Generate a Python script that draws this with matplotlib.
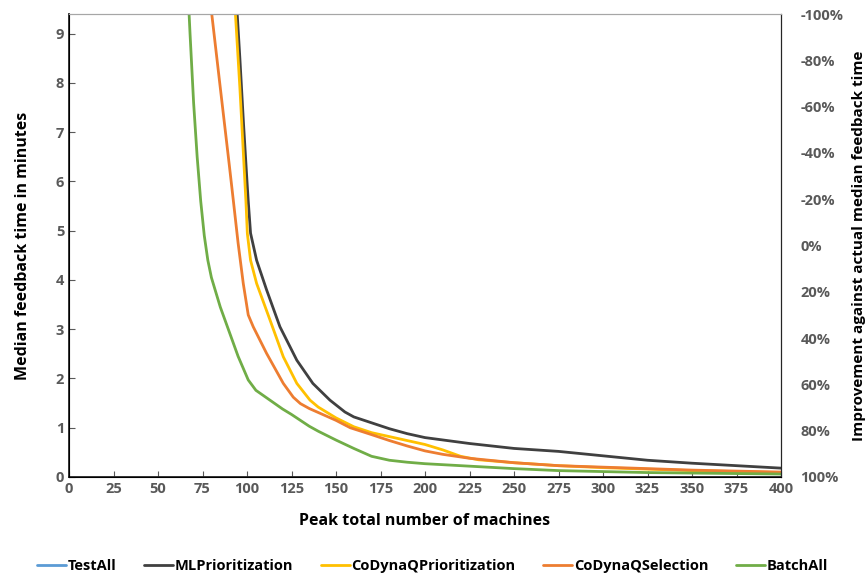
import numpy as np
import matplotlib.pyplot as plt
from matplotlib.ticker import FuncFormatter

# ===== data =====
# TestAll stays above the visible range of the chart
x_testall = [0, 100, 200, 300, 400]
y_testall = [60.0, 40.0, 25.0, 18.0, 14.0]

x_ml = [93.5, 94.5, 96, 98, 100, 100.7, 102, 105.4, 111, 118.5, 128, 137, 146.6, 155, 160,
        170, 180, 190, 200, 225, 250, 275, 300, 325, 350, 375, 400]
y_ml = [10.2, 9.4, 8.5, 7.2, 6.0, 5.6, 4.95, 4.4, 3.8, 3.05, 2.37, 1.9, 1.56, 1.32, 1.22,
        1.1, 0.98, 0.88, 0.8, 0.68, 0.58, 0.52, 0.43, 0.34, 0.28, 0.23, 0.18]

x_cdqp = [93, 93.5, 96, 99.4, 100.2, 102, 105.4, 113, 120.4, 128, 135.4, 140, 150, 160,
          170, 180, 190, 200, 210, 220, 230, 250, 275, 300, 325, 350, 375, 400]
y_cdqp = [10.2, 9.4, 7.9, 5.6, 4.94, 4.4, 3.93, 3.18, 2.44, 1.9, 1.56, 1.42, 1.2, 1.02,
          0.9, 0.82, 0.74, 0.66, 0.55, 0.42, 0.35, 0.29, 0.23, 0.19, 0.16, 0.13, 0.11, 0.09]

x_cdqs = [79, 80.2, 85, 90, 92.3, 95, 97.9, 100.7, 103.5, 111, 120.4, 126, 130, 135, 140, 150,
          158, 170, 180, 190, 200, 210, 225, 250, 275, 300, 325, 350, 375, 400]
y_cdqs = [10.2, 9.4, 7.9, 6.35, 5.62, 4.75, 3.93, 3.29, 3.05, 2.51, 1.9, 1.62, 1.49, 1.39, 1.31, 1.15,
          1.0, 0.86, 0.74, 0.63, 0.53, 0.46, 0.38, 0.29, 0.23, 0.2, 0.17, 0.14, 0.12, 0.1]

x_batch = [66, 68, 70, 72, 74, 76, 78, 80, 85, 90, 95, 100.7, 105, 112.9, 120, 125, 130, 135,
           140, 150, 160, 170, 180, 190, 200, 225, 250, 275, 300, 325, 350, 375, 400]
y_batch = [10.5, 9.0, 7.6, 6.5, 5.6, 4.9, 4.4, 4.05, 3.45, 2.95, 2.45, 1.97, 1.76, 1.56, 1.38, 1.27, 1.15, 1.03,
           0.93, 0.75, 0.58, 0.42, 0.34, 0.3, 0.27, 0.22, 0.17, 0.13, 0.11, 0.09, 0.08, 0.07, 0.06]

series = [
    ("TestAll", x_testall, y_testall, "#5B9BD5"),
    ("MLPrioritization", x_ml, y_ml, "#404040"),
    ("CoDynaQPrioritization", x_cdqp, y_cdqp, "#FFC000"),
    ("CoDynaQSelection", x_cdqs, y_cdqs, "#ED7D31"),
    ("BatchAll", x_batch, y_batch, "#70AD47"),
]

actual_median = 4.7  # minutes, maps to 0% on the right axis

plt.rcParams["font.family"] = ["Open Sans", "DejaVu Sans"]
plt.rcParams["font.weight"] = "bold"

fig = plt.figure(figsize=(8.65, 5.79), dpi=100)
ax = fig.add_axes([69 / 865, 1 - 477 / 579, 712 / 865, 463 / 579])

for name, xs, ys, col in series:
    ax.plot(xs, ys, color=col, lw=2, label=name, solid_capstyle="round")

ax.set_xlim(0, 400)
ax.set_ylim(0, 2 * actual_median)
ax.set_xticks(np.arange(0, 401, 25))
ax.set_yticks(np.arange(0, 10, 1))
ax.tick_params(direction="in", length=4, colors="#595959", labelsize=10.5,
               labelcolor="#595959")
for lab in ax.get_xticklabels() + ax.get_yticklabels():
    lab.set_fontweight("bold")
ax.spines["top"].set_color("#A6A6A6")
ax.spines["left"].set_color("#262626")
ax.spines["bottom"].set_color("#262626")
ax.spines["left"].set_linewidth(1.3)
ax.spines["bottom"].set_linewidth(1.3)
ax.set_xlabel("Peak total number of machines", fontsize=11.5, fontweight="bold", labelpad=12)
ax.set_ylabel("Median feedback time in minutes", fontsize=11.5, fontweight="bold", labelpad=18)

ax2 = ax.twinx()
ax2.set_ylim(1, -1)
ax2.set_yticks(np.arange(-1, 1.01, 0.2))
ax2.yaxis.set_major_formatter(FuncFormatter(lambda v, p: f"{round(v * 100):d}%"))
ax2.tick_params(direction="in", length=0, colors="#595959", labelsize=10.5, pad=14)
for lab in ax2.get_yticklabels():
    lab.set_fontweight("bold")
ax2.spines["right"].set_color("#262626")
ax2.spines["top"].set_color("#A6A6A6")
ax2.set_ylabel("Improvement against actual median feedback time", fontsize=11,
               fontweight="bold", labelpad=6)

handles, labels = ax.get_legend_handles_labels()
fig.legend(handles, labels, loc="center", bbox_to_anchor=(0.5, 1 - 566 / 579), ncol=5,
           frameon=False, handlelength=2.0, handletextpad=0.1,
           columnspacing=1.9, prop={"weight": "bold", "size": 10.5})

fig.savefig("out.png", dpi=100)
